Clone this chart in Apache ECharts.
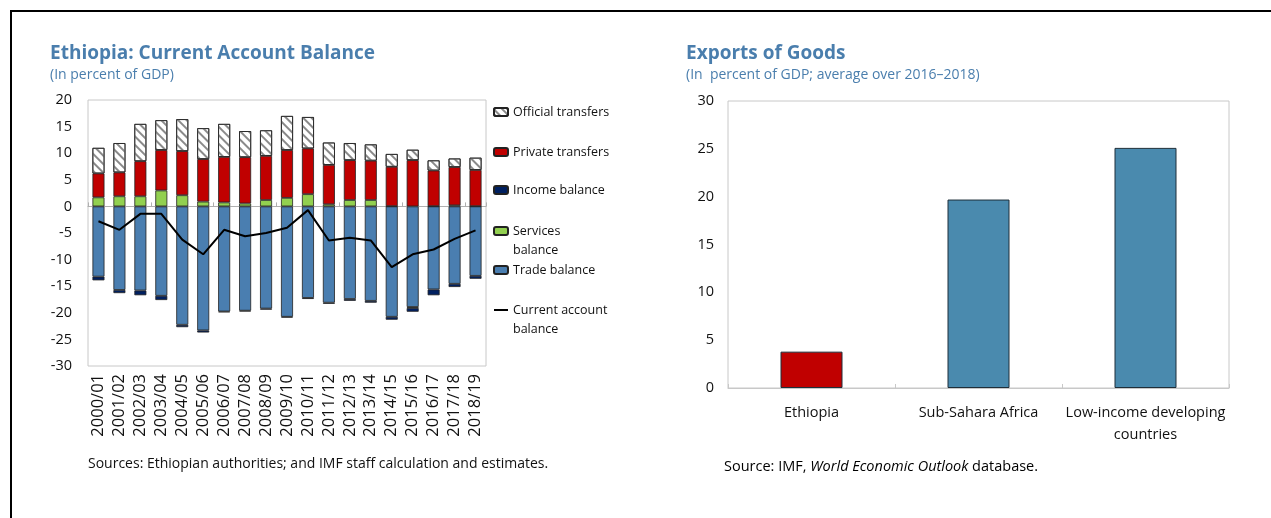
<!DOCTYPE html>
<html><head><meta charset="utf-8">
<script src="https://cdn.jsdelivr.net/npm/echarts@6/dist/echarts.min.js"></script>
<style>html,body{margin:0;padding:0;background:#fff}#c{width:1271px;height:518px}</style>
</head><body><div id="c"></div>
<script>
// ---- Left chart data (percent of GDP) ----
var years = ['2000/01','2001/02','2002/03','2003/04','2004/05','2005/06','2006/07','2007/08','2008/09','2009/10','2010/11','2011/12','2012/13','2013/14','2014/15','2015/16','2016/17','2017/18','2018/19'];
var tradeBalance    = [-13.2,-15.7,-15.8,-16.8,-22.25,-23.3,-19.75,-19.6,-19.2,-20.75,-17.2,-18.1,-17.4,-17.75,-20.75,-18.9,-15.6,-14.55,-13.05];
var servicesBalance = [1.7,1.9,1.9,3.0,2.1,0.9,0.75,0.55,1.2,1.6,2.3,0.4,1.2,1.2,0.05,-0.2,0.05,0.2,0.05];
var incomeBalance   = [-0.7,-0.6,-0.9,-0.8,-0.45,-0.4,-0.15,-0.15,-0.2,-0.15,-0.2,-0.2,-0.35,-0.35,-0.55,-0.7,-1.1,-0.6,-0.55];
var privateTransfers  = [4.5,4.5,6.6,7.6,8.3,8.0,8.55,8.7,8.3,9.0,8.6,7.4,7.5,7.4,7.4,8.7,6.7,7.2,6.8];
var officialTransfers = [4.8,5.5,7.0,5.6,6.0,5.8,6.2,4.9,4.8,6.4,5.9,4.2,3.2,3.05,2.4,1.95,1.9,1.6,2.3];
var currentAccount  = [-2.8,-4.4,-1.4,-1.4,-6.25,-9.0,-4.4,-5.6,-5.0,-4.0,-0.7,-6.4,-5.9,-6.4,-11.4,-9.0,-8.1,-6.1,-4.5];
// ---- Right chart data ----
var regions = ['Ethiopia','Sub-Sahara Africa','Low-income developing\ncountries'];
var exportsOfGoods = [3.8, 19.7, 25.1];

var FONT = '"Open Sans", "Noto Sans", sans-serif';
var BLUE_T = '#4a7ead';
var chart = echarts.init(document.getElementById('c'), null, {renderer:'canvas'});
var hatch = {symbol:'rect', symbolSize:1, dashArrayX:[1,0], dashArrayY:[1.5,3.5], rotation:Math.PI/4, color:'#8a8a8a'};
var bs = {borderColor:'#222', borderWidth:0.8};

function lg(name, top, extra){
  var o = {orient:'vertical', left:493, top:top, padding:0, itemWidth:14, itemHeight:8,
    data:[name], selectedMode:false,
    textStyle:{fontFamily:FONT, fontSize:12.5, color:'#111', lineHeight:19}};
  if (extra) for (var k in extra) o[k]=extra[k];
  return o;
}
function twoLine(n){ return '\n' + n; }

var option = {
  animation:false,
  textStyle:{fontFamily:FONT},
  grid:[
    {left:88, top:100, width:398, height:266, show:true, borderColor:'#c8c8c8', borderWidth:1},
    {left:728, top:101, width:501, height:287, show:true, borderColor:'#c8c8c8', borderWidth:1}
  ],
  legend:[
    lg('Official transfers', 102.5),
    lg('Private transfers', 142.5),
    lg('Income balance', 180.5),
    lg('Services\nbalance', 202.5, {formatter:twoLine}),
    lg('Trade balance', 260.5),
    lg('Current account\nbalance', 281.5, {itemHeight:2, formatter:twoLine})
  ],
  xAxis:[
    {type:'category', gridIndex:0, data:years, position:'bottom',
     axisLine:{show:false, onZero:false}, axisTick:{show:false},
     axisLabel:{rotate:90, fontSize:16.5, color:'#111', margin:8, interval:0, fontFamily:FONT}},
    {type:'category', gridIndex:0, data:years, position:'bottom',
     axisLine:{show:true, onZero:true, lineStyle:{color:'#b0b0b0', width:1}},
     axisTick:{show:true, inside:true, length:4, lineStyle:{color:'#b0b0b0'}},
     axisLabel:{show:false}},
    {type:'category', gridIndex:1, data:regions,
     axisLine:{lineStyle:{color:'#c8c8c8'}},
     axisTick:{show:true, inside:true, length:4, lineStyle:{color:'#c8c8c8'}},
     axisLabel:{fontSize:14.5, color:'#111', margin:14, lineHeight:22, interval:0, fontFamily:FONT}}
  ],
  yAxis:[
    {type:'value', gridIndex:0, min:-30, max:20, interval:5,
     axisLine:{show:false}, axisTick:{show:false}, splitLine:{show:false},
     axisLabel:{fontSize:14.5, color:'#111', margin:16, fontFamily:FONT}},
    {type:'value', gridIndex:1, min:0, max:30, interval:5,
     axisLine:{show:false}, axisTick:{show:false}, splitLine:{show:false},
     axisLabel:{fontSize:14.5, color:'#111', margin:14, fontFamily:FONT}}
  ],
  series:[
    {name:'Trade balance', type:'bar', stack:'ca', xAxisIndex:0, yAxisIndex:0, barWidth:12,
     itemStyle:Object.assign({color:'#4a7eb0'}, bs), data:tradeBalance},
    {name:'Services\nbalance', type:'bar', stack:'ca', xAxisIndex:0, yAxisIndex:0, barWidth:12,
     itemStyle:Object.assign({color:'#92d050'}, bs), data:servicesBalance},
    {name:'Income balance', type:'bar', stack:'ca', xAxisIndex:0, yAxisIndex:0, barWidth:12,
     itemStyle:Object.assign({color:'#002060'}, bs), data:incomeBalance},
    {name:'Private transfers', type:'bar', stack:'ca', xAxisIndex:0, yAxisIndex:0, barWidth:12,
     itemStyle:Object.assign({color:'#c00000'}, bs), data:privateTransfers},
    {name:'Official transfers', type:'bar', stack:'ca', xAxisIndex:0, yAxisIndex:0, barWidth:12,
     itemStyle:Object.assign({color:'#ffffff', decal:hatch}, bs), data:officialTransfers},
    {name:'Current account\nbalance', type:'line', xAxisIndex:0, yAxisIndex:0, symbol:'none', z:5,
     lineStyle:{color:'#000', width:2}, itemStyle:{color:'#000'}, data:currentAccount},
    {name:'Exports of goods', type:'bar', xAxisIndex:2, yAxisIndex:1, barWidth:62,
     itemStyle:{color:'#4a8aae', borderColor:'#1f2f3a', borderWidth:1},
     data:exportsOfGoods.map(function(v,i){ return i===0 ? {value:v, itemStyle:{color:'#c00000'}} : v; })}
  ],
  graphic:[
    {type:'rect', shape:{x:11, y:11, width:1400, height:700}, style:{fill:null, stroke:'#000', lineWidth:2}, silent:true},
    {type:'text', left:50, top:44, style:{text:'Ethiopia: Current Account Balance', font:'bold 19px '+FONT, fill:BLUE_T}},
    {type:'text', left:50, top:68, style:{text:'(In percent of GDP)', font:'14px '+FONT, fill:BLUE_T}},
    {type:'text', left:686, top:44, style:{text:'Exports of Goods', font:'bold 19px '+FONT, fill:BLUE_T}},
    {type:'text', left:686, top:68, style:{text:'(In  percent of GDP; average over 2016\u20132018)', font:'14px '+FONT, fill:BLUE_T}},
    {type:'text', left:88, top:457, style:{text:'Sources: Ethiopian authorities; and IMF staff calculation and estimates.', font:'14px '+FONT, fill:'#111'}},
    {type:'text', left:724, top:459, style:{text:'{a|Source: IMF, }{b|World Economic Outlook}{a| database.}',
      rich:{a:{fontSize:14.5, fontFamily:FONT, color:'#111'}, b:{fontStyle:'italic', fontSize:14.5, fontFamily:FONT, color:'#111'}}}}
  ]
};
chart.setOption(option);
</script></body></html>
